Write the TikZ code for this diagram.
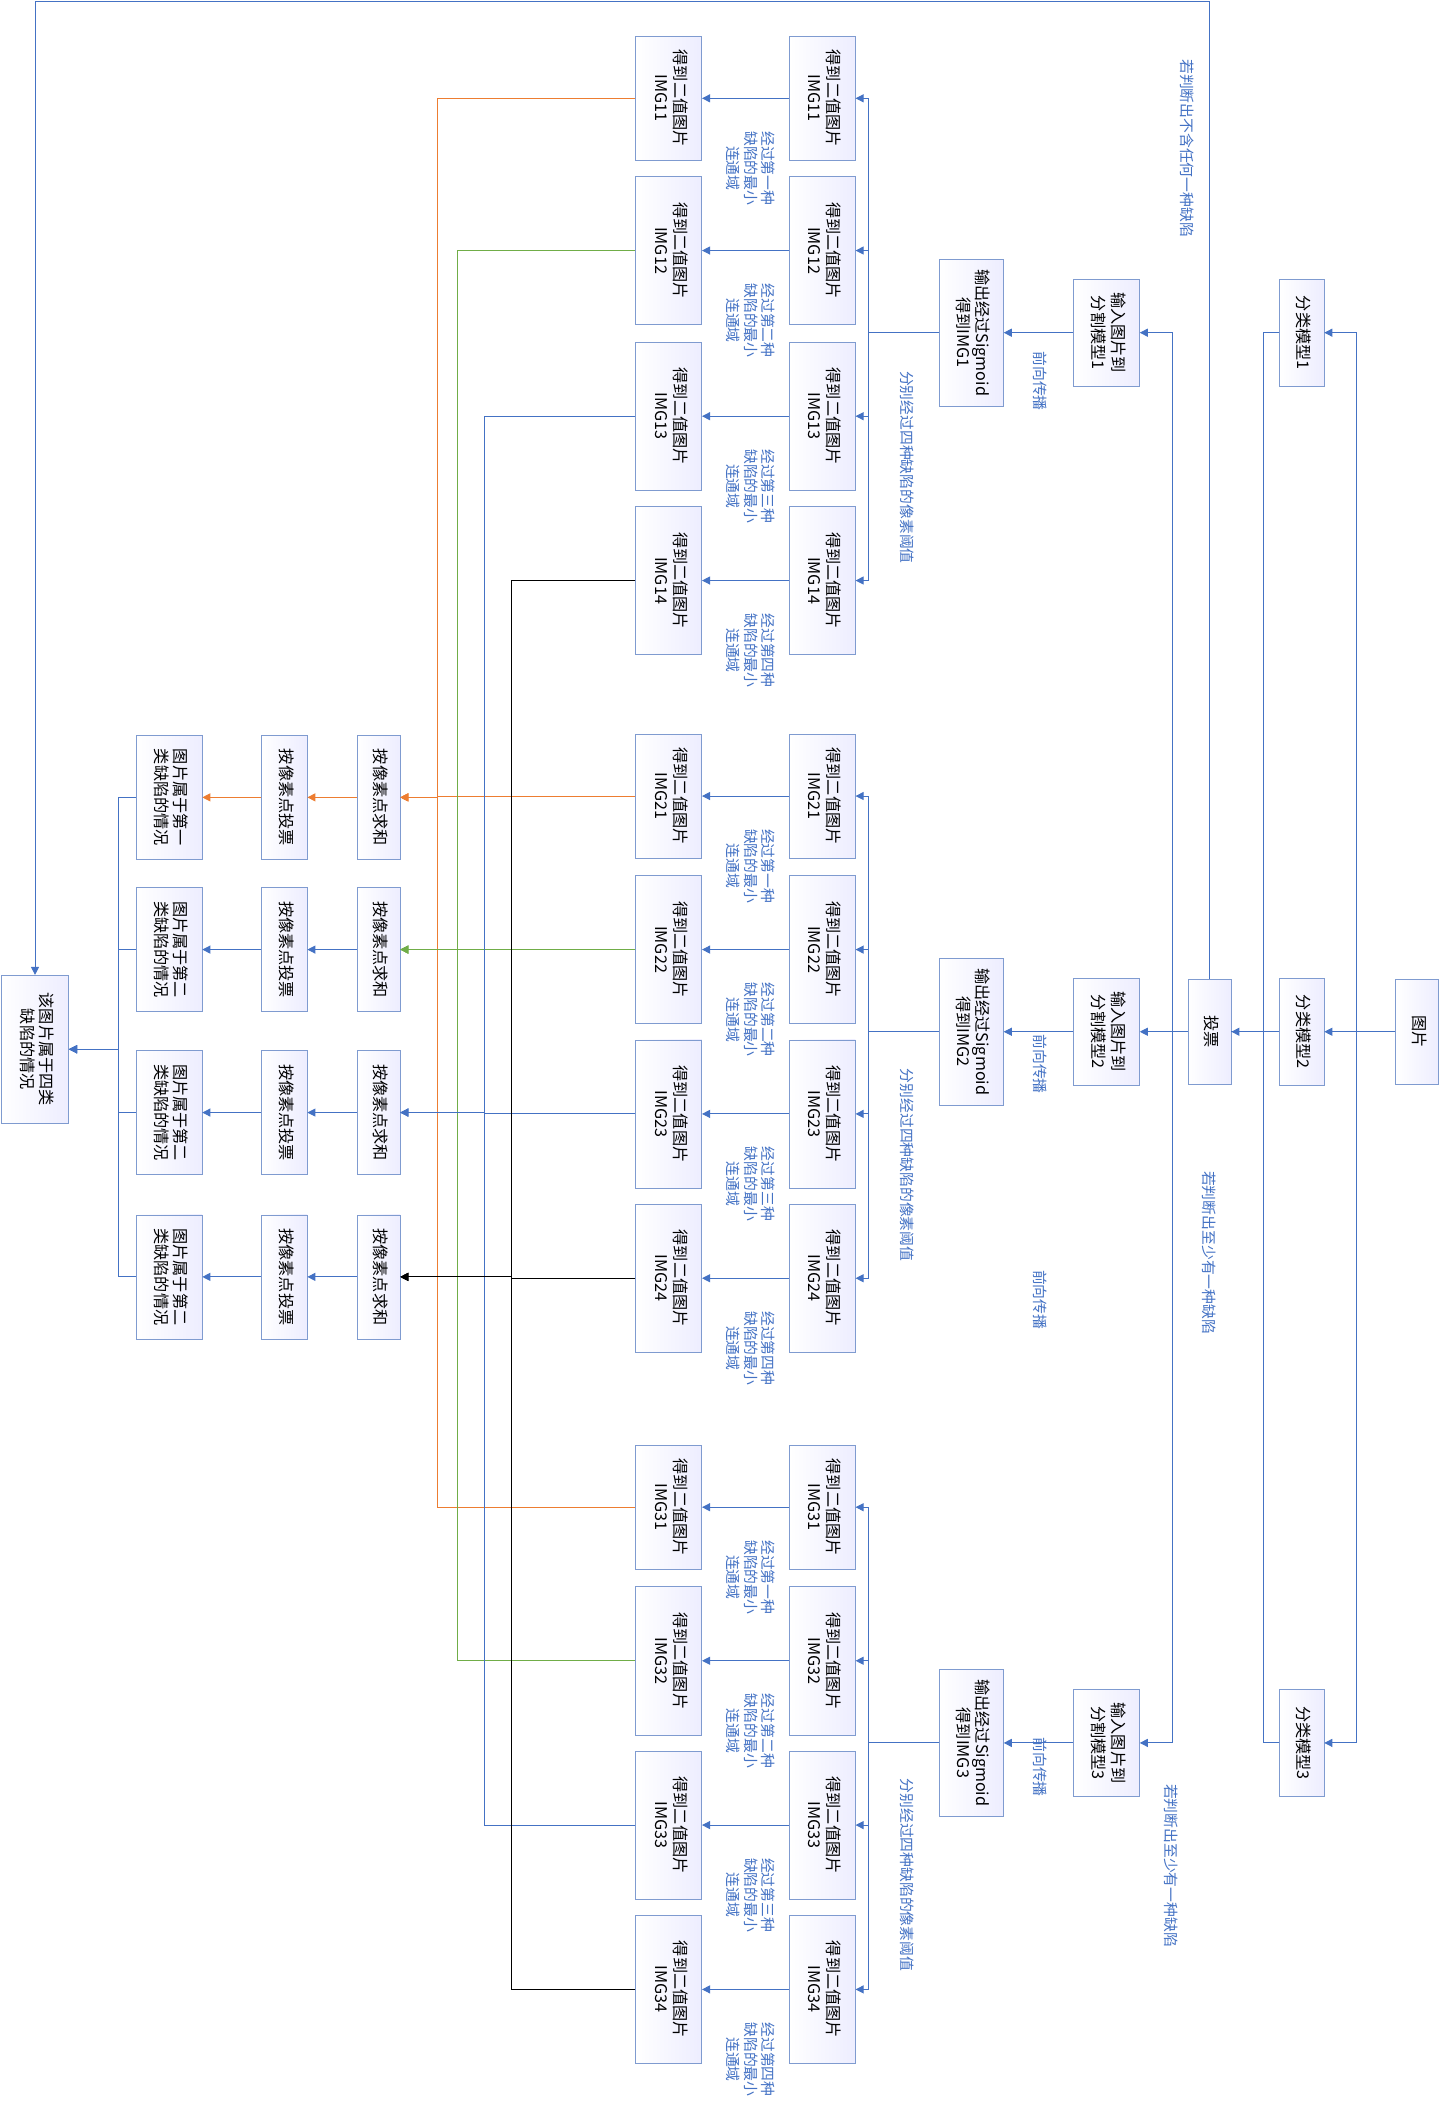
\documentclass[tikz,border=0pt]{standalone}
\usepackage{fontspec}
\setmainfont{Noto Sans CJK SC}
\usepackage{graphicx}
\usetikzlibrary{arrows.meta,calc}
\definecolor{lblue}{HTML}{4472C4}
\definecolor{bord}{HTML}{7F9BD0}
\definecolor{lorange}{HTML}{ED7D31}
\definecolor{lgreen}{HTML}{70AD47}
\newcommand{\rt}[1]{\rotatebox{-90}{\begin{tabular}{@{}c@{}}#1\end{tabular}}}
\tikzset{
  box/.style={draw=bord,left color=white,right color=blue!7,inner sep=0pt,font=\fontsize{12}{14}\selectfont},
  lab/.style={text=lblue,inner sep=0pt,font=\fontsize{11}{12.5}\selectfont},
  arr/.style={-{Triangle[length=6pt,width=6pt]},lblue,line width=0.7pt}
}
\begin{document}
\begin{tikzpicture}[x=1pt,y=-1pt]
  \useasboundingbox (0,0) rectangle (1072,1571);
  % top part
  \node[box,minimum width=32,minimum height=78] (pic) at (1052,766) {\rt{图片}};
  \node[box,minimum width=32,minimum height=78] (vote) at (898,766) {\rt{投票}};
  \foreach \k/\y in {1/247,2/766,3/1294}
  {
    \node[box,minimum width=33,minimum height=79] (cls\k) at (966.5,\y) {\rt{分类模型\k}};
    \node[box,minimum width=49,minimum height=79] (seg\k) at (821.5,\y) {\rt{输入图片到\\分割模型\k}};
    \node[box,minimum width=48,minimum height=109] (sig\k) at (721,\y) {\rt{输出经过Sigmoid\\得到IMG\k}};
    \draw[arr] (seg\k) -- (sig\k);
  }
  \draw[arr] (pic) -- (cls2);
  \draw[arr] (cls2) -- (vote);
  \draw[arr] (vote) -- (seg2);
  \foreach \k in {1,3}
  {
    \draw[arr] (pic.west) -- ++(-29,0) |- (cls\k.east);
    \draw[lblue,line width=0.7pt] (cls\k.west) -- ++(-12,0) |- (vote.east);
    \draw[arr] (vote.west) -- ++(-11,0) |- (seg\k.east);
  }
  \node[box,minimum width=50,minimum height=110] (final) at (26,779) {\rt{该图片属于四类\\缺陷的情况}};
  \draw[arr] (vote.north) -- ++(0,-726) -| (final.north);
  % labels
  \node[lab] at (880,110) {\rt{若判断出不含任何一种缺陷}};
  \node[lab] at (896,930) {\rt{若判断出至少有一种缺陷}};
  \node[lab] at (868,1385) {\rt{若判断出至少有一种缺陷}};
  \foreach \y in {283,790,965,1312}
    \node[lab] at (771,\y) {\rt{前向传播}};
  \foreach \y in {347,865,1392}
    \node[lab] at (672,\y) {\rt{分别经过四种缺陷的像素阈值}};
  % groups of binary images
  \foreach \k/\ya/\yb/\yc/\yd in {1/73/186/309/431,2/591/705/827/949,3/1119/1233/1355/1477}
  {
    \foreach \j/\y/\h/\nm/\c/\dx in {1/\ya/92/一/lorange/147,2/\yb/110/二/lgreen/132,3/\yc/110/三/lblue/112,4/\yd/110/四/black/92}
    {
      \node[box,minimum width=49,minimum height=\h] (r\k\j) at (610.5,\y) {\rt{得到二值图片\\IMG\k\j}};
      \node[box,minimum width=49,minimum height=\h] (l\k\j) at (496.5,\y) {\rt{得到二值图片\\IMG\k\j}};
      \draw[arr] (sig\k.west) -- ++(-52,0) |- (r\k\j.east);
      \draw[arr] (r\k\j) -- (l\k\j);
      \node[lab] at (556,\y+52) {\rt{经过第\nm 种\\缺陷的最小\\连通域}};
    }
  }
  % pixel sums and votes
  \foreach \j/\y/\nm/\c/\dx in {1/592/一/lorange/147,2/705/二/lgreen/132,3/826/二/lblue/112,4/948/二/black/92}
  {
    \node[box,minimum width=32,minimum height=92] (sum\j) at (281,\y) {\rt{按像素点求和}};
    \node[box,minimum width=34,minimum height=92] (pv\j) at (211,\y) {\rt{按像素点投票}};
    \node[box,minimum width=49,minimum height=92] (cat\j) at (125.5,\y) {\rt{图片属于第\nm\\类缺陷的情况}};
    \foreach \k in {1,2,3}
      \draw[arr,\c] (l\k\j.west) -- ++(-\dx,0) |- (sum\j.east);
    \draw[arr] (cat\j.west) -- ++(-13,0) |- (final.east);
  }
  \draw[arr,lorange] (sum1) -- (pv1);
  \draw[arr,lorange] (pv1) -- (cat1);
  \foreach \j in {2,3,4}
  {
    \draw[arr] (sum\j) -- (pv\j);
    \draw[arr] (pv\j) -- (cat\j);
  }
\end{tikzpicture}
\end{document}
